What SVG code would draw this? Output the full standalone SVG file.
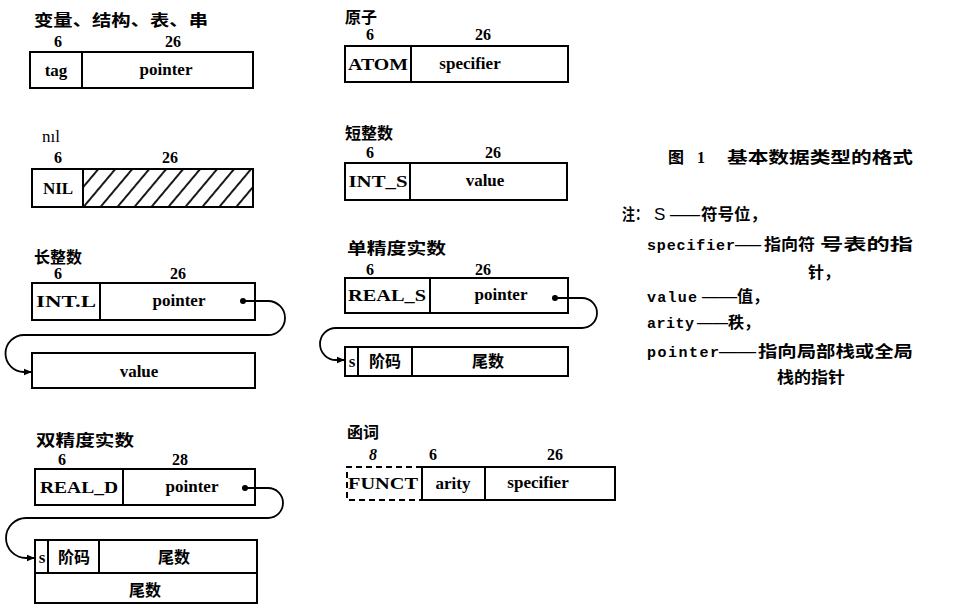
<svg xmlns="http://www.w3.org/2000/svg" width="955" height="604" viewBox="0 0 955 604">
<style>
.bx{fill:none;stroke:#000;stroke-width:2}
.ds{fill:none;stroke:#000;stroke-width:2;stroke-dasharray:6,4}
.ln{stroke:#000;stroke-width:2}
.cn{fill:none;stroke:#000;stroke-width:1.8}
.t{font-family:"Liberation Serif",serif;font-weight:bold;font-size:17px;text-anchor:middle;fill:#000}
.n{font-family:"Liberation Serif",serif;font-weight:bold;font-size:16px;text-anchor:middle;fill:#000}
.c{font-family:"Liberation Sans","Noto Sans CJK SC",sans-serif;font-weight:bold;font-size:16px;fill:#000}
.cc{font-family:"Liberation Sans","Noto Sans CJK SC",sans-serif;font-weight:bold;font-size:16px;text-anchor:middle;fill:#000}
.lg{font-family:"Liberation Serif","Noto Sans CJK SC",serif;font-weight:bold;font-size:16px;fill:#000}
.lgm{font-family:"Liberation Mono","Noto Sans CJK SC",monospace;font-weight:bold;font-size:15px;fill:#000}
</style>
<defs>
<marker id="arr" viewBox="0 0 10 10" refX="10" refY="5" markerWidth="8" markerHeight="8" orient="auto" markerUnits="userSpaceOnUse"><path d="M0,1 L10,5 L0,9 z" fill="#000"/></marker>
<pattern id="hatch" patternUnits="userSpaceOnUse" width="13" height="13" patternTransform="rotate(40)"><line x1="2" y1="0" x2="2" y2="13" stroke="#000" stroke-width="1.8"/></pattern>
</defs>
<rect width="955" height="604" fill="#fff"/>

<g id="node-var">
<text class="c" x="34" y="26" textLength="174" lengthAdjust="spacingAndGlyphs">变量、结构、表、串</text>
<text class="n" x="58" y="47">6</text>
<text class="n" x="173" y="47">26</text>
<rect class="bx" x="30" y="52" width="223" height="36"/>
<line class="ln" x1="82" y1="52" x2="82" y2="88"/>
<text class="t" x="56" y="76">tag</text>
<text class="t" x="166" y="75">pointer</text>
</g>

<g id="node-nil">
<text x="51" y="142" style="font-family:'Liberation Serif',serif;font-size:17px;text-anchor:middle">nıl</text>
<text class="n" x="58" y="163">6</text>
<text class="n" x="170" y="163">26</text>
<rect x="83" y="169" width="170" height="38" fill="url(#hatch)"/>
<rect class="bx" x="32" y="169" width="221" height="38"/>
<line class="ln" x1="83" y1="169" x2="83" y2="207"/>
<text class="t" x="58" y="194">NIL</text>
</g>

<g id="node-intl">
<text class="c" x="34" y="263">长整数</text>
<text class="n" x="58" y="279">6</text>
<text class="n" x="178" y="279">26</text>
<rect class="bx" x="32" y="283" width="223" height="37"/>
<line class="ln" x1="100" y1="283" x2="100" y2="320"/>
<text class="t" x="66" y="307" textLength="60" lengthAdjust="spacingAndGlyphs">INT.L</text>
<text class="t" x="179" y="306">pointer</text>
</g>

<g id="node-intl-value">
<rect class="bx" x="32" y="353" width="223" height="35"/>
<text class="t" x="139" y="377">value</text>
</g>

<g id="node-reald">
<text class="c" x="36" y="446" textLength="98" lengthAdjust="spacingAndGlyphs">双精度实数</text>
<text class="n" x="62" y="465">6</text>
<text class="n" x="180" y="465">28</text>
<rect class="bx" x="35" y="469" width="220" height="36"/>
<line class="ln" x1="123" y1="469" x2="123" y2="505"/>
<text class="t" x="79" y="493" textLength="78" lengthAdjust="spacingAndGlyphs">REAL_D</text>
<text class="t" x="192" y="492">pointer</text>
</g>

<g id="node-reald-mant">
<rect class="bx" x="35" y="540" width="222" height="63"/>
<line class="ln" x1="35" y1="573" x2="257" y2="573"/>
<line class="ln" x1="48" y1="540" x2="48" y2="573"/>
<line class="ln" x1="99" y1="540" x2="99" y2="573"/>
<text class="t" x="42" y="563">s</text>
<text class="cc" x="74" y="563">阶码</text>
<text class="cc" x="174" y="563">尾数</text>
<text class="cc" x="145" y="596">尾数</text>
</g>

<g id="node-atom">
<text class="c" x="345" y="23">原子</text>
<text class="n" x="370" y="40">6</text>
<text class="n" x="483" y="40">26</text>
<rect class="bx" x="345" y="46" width="223" height="36"/>
<line class="ln" x1="411" y1="46" x2="411" y2="82"/>
<text class="t" x="378" y="70" textLength="60" lengthAdjust="spacingAndGlyphs">ATOM</text>
<text class="t" x="470" y="69">specifier</text>
</g>

<g id="node-ints">
<text class="c" x="345" y="139">短整数</text>
<text class="n" x="370" y="158">6</text>
<text class="n" x="493" y="158">26</text>
<rect class="bx" x="345" y="163" width="222" height="37"/>
<line class="ln" x1="410" y1="163" x2="410" y2="200"/>
<text class="t" x="378" y="187" textLength="59" lengthAdjust="spacingAndGlyphs">INT_S</text>
<text class="t" x="485" y="186">value</text>
</g>

<g id="node-reals">
<text class="c" x="347" y="254" textLength="99" lengthAdjust="spacingAndGlyphs">单精度实数</text>
<text class="n" x="370" y="275">6</text>
<text class="n" x="483" y="275">26</text>
<rect class="bx" x="345" y="278" width="223" height="35"/>
<line class="ln" x1="430" y1="278" x2="430" y2="313"/>
<text class="t" x="387" y="301" textLength="78" lengthAdjust="spacingAndGlyphs">REAL_S</text>
<text class="t" x="501" y="300">pointer</text>
</g>

<g id="node-reals-mant">
<rect class="bx" x="345" y="347" width="223" height="29"/>
<line class="ln" x1="358" y1="347" x2="358" y2="376"/>
<line class="ln" x1="412" y1="347" x2="412" y2="376"/>
<text class="t" x="352" y="367">s</text>
<text class="cc" x="385" y="367">阶码</text>
<text class="cc" x="488" y="367">尾数</text>
</g>

<g id="node-funct">
<text class="c" x="347" y="438">函词</text>
<text class="n" x="373" y="460" style="font-style:italic">8</text>
<text class="n" x="433" y="460">6</text>
<text class="n" x="555" y="460">26</text>
<path class="ds" d="M422,467 H347 V500 H422"/>
<rect class="bx" x="422" y="467" width="193" height="33"/>
<line class="ln" x1="485" y1="467" x2="485" y2="500"/>
<text class="t" x="383" y="489" textLength="70" lengthAdjust="spacingAndGlyphs">FUNCT</text>
<text class="t" x="453" y="489">arity</text>
<text class="t" x="538" y="488">specifier</text>
</g>

<g id="connectors">
<circle cx="243" cy="301" r="3"/>
<path class="cn" marker-end="url(#arr)" d="M243,301 H268 A17,17 0 0 1 268,335 H24 A18.5,18.5 0 0 0 24,372 H32"/>
<circle cx="555" cy="298" r="3"/>
<path class="cn" marker-end="url(#arr)" d="M555,298 H582 A15,15 0 0 1 582,328 H336 A16,16 0 0 0 336,360 H345"/>
<circle cx="245" cy="488" r="3"/>
<path class="cn" marker-end="url(#arr)" d="M245,488 H268 A15,15 0 0 1 268,518 H26 A20,20 0 0 0 26,558 H35"/>
</g>

<g id="legend">
<text class="lg" x="668" y="163">图</text>
<text class="lg" x="697" y="163">1</text>
<text class="lg" x="727" y="163" textLength="186" lengthAdjust="spacingAndGlyphs">基本数据类型的格式</text>
<text class="lg" x="622" y="220" textLength="26" lengthAdjust="spacingAndGlyphs">注：</text>
<text x="654" y="220" style="font-family:'Liberation Sans',sans-serif;font-size:17px;fill:#000">S</text>
<text class="lg" x="670" y="220" textLength="30" lengthAdjust="spacingAndGlyphs">——</text>
<text class="lg" x="701" y="220" textLength="66" lengthAdjust="spacingAndGlyphs">符号位，</text>
<text class="lgm" x="647" y="250" textLength="88" lengthAdjust="spacing">specifier</text>
<text class="lg" x="735" y="250" textLength="26" lengthAdjust="spacingAndGlyphs">——</text>
<text class="lg" x="764" y="250" textLength="51" lengthAdjust="spacingAndGlyphs">指向符</text>
<text class="lg" x="820" y="250" textLength="93" lengthAdjust="spacingAndGlyphs">号表的指</text>
<text class="lg" x="808" y="278">针，</text>
<text class="lgm" x="647" y="302" textLength="50" lengthAdjust="spacing">value</text>
<text class="lg" x="702" y="302" textLength="35" lengthAdjust="spacingAndGlyphs">——</text>
<text class="lg" x="737" y="302">值，</text>
<text class="lgm" x="647" y="328" textLength="47" lengthAdjust="spacing">arity</text>
<text class="lg" x="697" y="328" textLength="31" lengthAdjust="spacingAndGlyphs">——</text>
<text class="lg" x="728" y="328">秩，</text>
<text class="lgm" x="647" y="357" textLength="72" lengthAdjust="spacing">pointer</text>
<text class="lg" x="719" y="357" textLength="37" lengthAdjust="spacingAndGlyphs">——</text>
<text class="lg" x="758" y="357" textLength="155" lengthAdjust="spacingAndGlyphs">指向局部栈或全局</text>
<text class="lg" x="777" y="383" textLength="68" lengthAdjust="spacingAndGlyphs">栈的指针</text>
</g>
</svg>
